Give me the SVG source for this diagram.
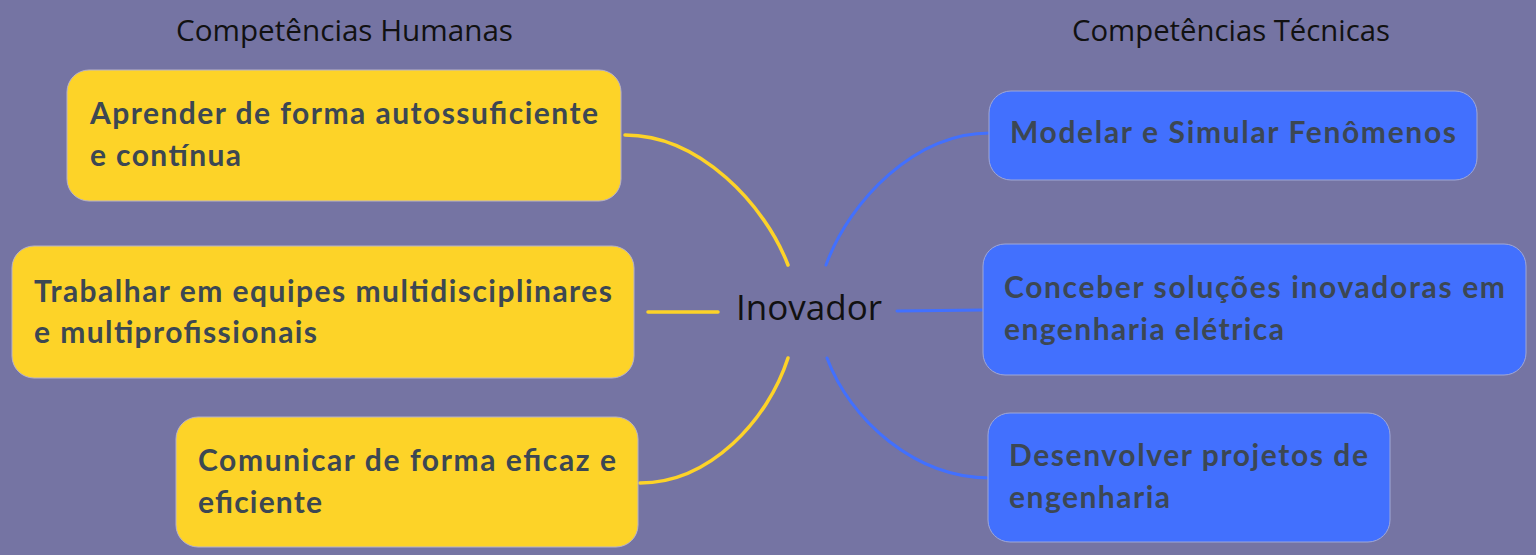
<svg xmlns="http://www.w3.org/2000/svg" width="1536" height="555" viewBox="0 0 1536 555">
<style>
.bg{fill:#7574a3}
.y{fill:#fdd328;stroke:#b9b3c8;stroke-width:1}
.b{fill:#4270fe;stroke:#9fa7d8;stroke-width:1}
.t{font-family:Lato,"Noto Sans",sans-serif;font-weight:700;font-size:30px;fill:#3c4753}
.h{font-family:"Open Sans","Noto Sans",sans-serif;font-size:30px;fill:#111}
.c{font-family:"Open Sans","Noto Sans",sans-serif;font-size:35px;fill:#111}
.cy{fill:none;stroke:#fdd328;stroke-width:3.5;stroke-linecap:round}
.cb{fill:none;stroke:#4270fe;stroke-width:3;stroke-linecap:round}
</style>
<rect class="bg" x="0" y="0" width="1536" height="555"/>
<g id="header-humanas"><text class="h" x="176" y="41" textLength="337" lengthAdjust="spacingAndGlyphs">Competências Humanas</text></g>
<g id="header-tecnicas"><text class="h" x="1072" y="41" textLength="318" lengthAdjust="spacingAndGlyphs">Competências Técnicas</text></g>
<g id="connectors">
<path class="cy" d="M625 135 C700 135 765 205 788 265"/>
<path class="cy" d="M648 312 L718 312"/>
<path class="cy" d="M788 358 C768 420 710 483 640 483"/>
<path class="cb" d="M826 265 C850 200 915 133 990 133"/>
<path class="cb" d="M897 311 L983 310"/>
<path class="cb" d="M827 358 C850 420 915 478 990 478"/>
</g>
<g id="center"><text class="c" x="736" y="320" textLength="146">Inovador</text></g>
<g id="h1"><rect class="y" x="67" y="70" width="554" height="131" rx="22"/>
<text class="t" x="90" y="124" textLength="508">Aprender de forma autossuficiente</text>
<text class="t" x="90" y="166" textLength="151">e contínua</text></g>
<g id="h2"><rect class="y" x="12" y="246" width="622" height="132" rx="22"/>
<text class="t" x="34" y="302" textLength="578">Trabalhar em equipes multidisciplinares</text>
<text class="t" x="34" y="343" textLength="283">e multiprofissionais</text></g>
<g id="h3"><rect class="y" x="176" y="417" width="462" height="130" rx="22"/>
<text class="t" x="198" y="471" textLength="418">Comunicar de forma eficaz e</text>
<text class="t" x="198" y="513" textLength="124">eficiente</text></g>
<g id="t1"><rect class="b" x="989" y="91" width="488" height="89" rx="22"/>
<text class="t" x="1010" y="143" textLength="446">Modelar e Simular Fenômenos</text></g>
<g id="t2"><rect class="b" x="983" y="244" width="543" height="131" rx="22"/>
<text class="t" x="1004" y="298" textLength="501">Conceber soluções inovadoras em</text>
<text class="t" x="1004" y="340" textLength="280">engenharia elétrica</text></g>
<g id="t3"><rect class="b" x="988" y="413" width="402" height="129" rx="22"/>
<text class="t" x="1009" y="466" textLength="359">Desenvolver projetos de</text>
<text class="t" x="1009" y="508" textLength="161">engenharia</text></g>
</svg>
